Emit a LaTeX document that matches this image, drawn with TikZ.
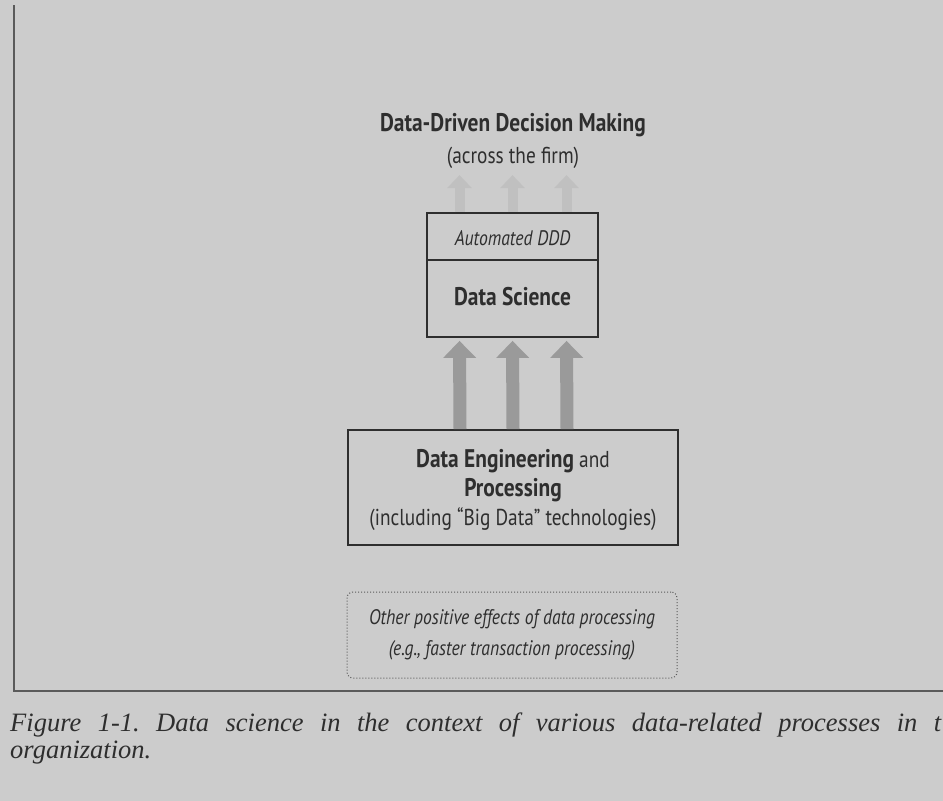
\documentclass[tikz,border=0pt]{standalone}
\usepackage{fontspec}
\setmainfont{Liberation Serif}
\newfontfamily\diagfont[FakeStretch=0.84]{PT Sans}
\usetikzlibrary{arrows.meta}
\definecolor{paper}{HTML}{CCCCCC}
\definecolor{ink}{HTML}{2E2E2E}
\definecolor{rule}{HTML}{5A5A5A}
\definecolor{flow}{HTML}{9A9A9A}
\definecolor{flowfaint}{HTML}{C0C0C0}
\frenchspacing
\begin{document}
\begin{tikzpicture}[x=1pt,y=-1pt,
  every node/.style={text=ink, inner sep=0pt},
  boldlbl/.style={font=\diagfont\bfseries\fontsize{25.5}{30}\selectfont},
  plainlbl/.style={font=\diagfont\fontsize{23}{30}\selectfont, align=center},
  englbl/.style={font=\diagfont\fontsize{23}{29}\selectfont, align=center},
  itlbl/.style={font=\diagfont\itshape\fontsize{21}{31}\selectfont, align=center},
  framebox/.style={draw=ink, line width=1.8pt},
  dotbox/.style={draw=rule, line width=1pt, dotted, rounded corners=6pt},
  bigarrow/.style={draw=flow, line width=13pt,
    -{Triangle[width=32pt,length=17pt]}, shorten >=3pt},
  faintarrow/.style={draw=flowfaint, line width=10pt,
    -{Triangle[width=24pt,length=13pt]}},
  caption/.style={font=\itshape\fontsize{26.5}{28}\selectfont, anchor=base west}]
\useasboundingbox (0,0) rectangle (943,801);
\fill[paper] (0,0) rectangle (943,801);

% page frame
\draw[rule, line width=1.6pt] (14,5) -- (14,691) -- (943,691);

% top goal
\node[boldlbl] (ddd) at (513,125) {Data-Driven Decision Making};
\node[plainlbl] (firm) at (513,158) {(across the firm)};

% data science box with its header row
\node[framebox, minimum width=171pt, minimum height=124pt] (ds) at (512.5,275) {};
\draw[ink, line width=1.8pt] (ds.west |- 0,260) -- (ds.east |- 0,260);
\node[itlbl] (auto) at (512.5,238) {Automated DDD};
\node[boldlbl] (dslbl) at (512.5,297) {Data Science};

% data engineering box
\node[framebox, minimum width=330pt, minimum height=115pt] (eng) at (513,487.5) {};
\node[englbl] (englbl) at (513,490)
  {{\bfseries\fontsize{25.5}{29}\selectfont Data Engineering} and\\
   {\bfseries\fontsize{25.5}{29}\selectfont Processing}\\
   (including “Big Data” technologies)};

% other effects box
\node[dotbox, minimum width=330pt, minimum height=86pt] (other) at (512,635) {};
\node[itlbl] (otherlbl) at (512,635)
  {Other positive effects of data processing\\(e.g., faster transaction processing)};

% flows from engineering into data science
\foreach \dx in {-53,0,54}
  \draw[bigarrow] ([xshift=\dx pt]eng.north) -- ([xshift=\dx pt]ds.south);

% faint flows from data science up to decision making
\foreach \dx in {-53,0,54}
  \draw[faintarrow] ([xshift=\dx pt]ds.north) -- ([xshift=\dx pt, yshift=37pt]ds.north);

% caption
\node[caption] (cap1) at (10,731)
  {\hbox to 931pt{Figure 1-1. Data science in the context of various data-related processes in t}};
\node[caption] (cap2) at (10,758) {organization.};
\end{tikzpicture}
\end{document}
